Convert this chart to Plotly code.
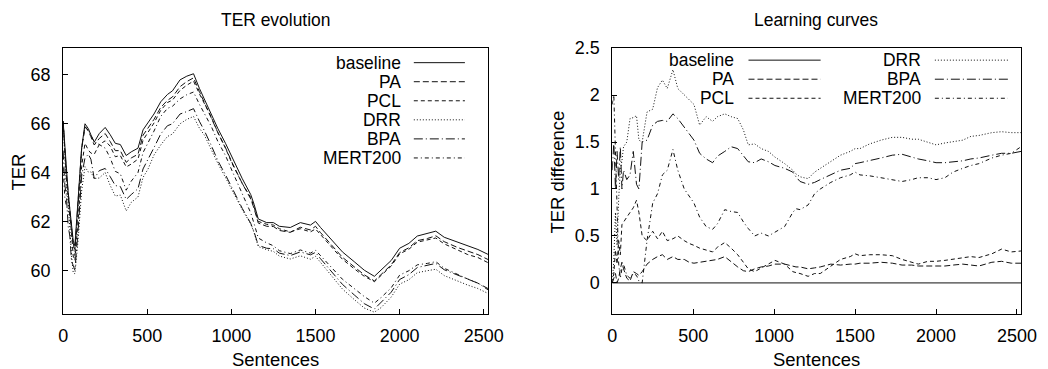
import plotly.graph_objects as go

# ---------------- data ----------------
SENTENCES = [0, 10, 20, 30, 40, 50, 60, 70, 90, 110,
             130, 150, 165, 185, 215, 250, 280, 310, 340, 375,
             405, 445, 475, 505, 540, 580, 620, 650, 695, 735,
             775, 810, 840, 880, 920, 965, 1005, 1065, 1115, 1135,
             1160, 1210, 1250, 1285, 1350, 1410, 1470, 1500, 1530, 1590,
             1660, 1730, 1790, 1850, 1890, 1950, 2000, 2055, 2105, 2165,
             2215, 2265, 2345, 2405, 2465, 2525]

# TER evolution (left chart)
TER_BASELINE = [66.1, 65.0, 64.0, 63.2, 62.5, 61.8, 61.2, 61.0, 62.8, 65.0,
                66.0, 65.8, 65.55, 65.25, 65.6, 65.85, 65.55, 65.2, 65.15, 64.7,
                64.85, 65.0, 65.75, 66.05, 66.4, 66.9, 67.2, 67.35, 67.8, 67.95,
                68.05, 67.45, 67.0, 66.4, 65.8, 65.2, 64.6, 63.75, 63.1, 62.7,
                62.1, 61.95, 61.95, 61.8, 61.75, 61.95, 61.85, 62.0, 61.75, 61.3,
                60.75, 60.35, 60.0, 59.75, 60.0, 60.4, 60.9, 61.1, 61.4, 61.5,
                61.6, 61.35, 61.15, 61.0, 60.85, 60.65]
TER_PA = [66.1, 64.95, 63.9, 63.2, 62.45, 61.65, 60.98, 60.85, 62.75, 64.98,
          65.88, 65.7, 65.47, 65.13, 65.4, 65.6, 65.27, 64.9, 64.9, 64.42,
          64.6, 64.75, 65.53, 65.84, 66.18, 66.67, 66.96, 67.1, 67.52, 67.73,
          67.88, 67.32, 66.88, 66.25, 65.63, 65.02, 64.4, 63.55, 62.92, 62.53,
          61.93, 61.8, 61.79, 61.63, 61.55, 61.76, 61.65, 61.8, 61.54, 61.09,
          60.53, 60.14, 59.81, 59.56, 59.82, 60.22, 60.72, 60.92, 61.21, 61.3,
          61.41, 61.17, 60.93, 60.77, 60.64, 60.44]
TER_PCL = [66.1, 64.9, 63.65, 63.0, 62.05, 61.5, 60.58, 60.4, 62.1, 64.25,
           65.2, 64.92, 64.8, 64.75, 65.15, 65.3, 65.08, 64.65, 64.7, 64.23,
           64.35, 64.55, 65.33, 65.65, 66.03, 66.55, 66.87, 66.97, 67.37, 67.58,
           67.75, 67.23, 66.85, 66.28, 65.64, 65.0, 64.36, 63.55, 62.98, 62.59,
           62.0, 61.88, 61.85, 61.7, 61.57, 61.7, 61.57, 61.69, 61.46, 61.0,
           60.45, 60.06, 59.75, 59.53, 59.8, 60.17, 60.67, 60.86, 61.15, 61.23,
           61.32, 61.08, 60.84, 60.64, 60.52, 60.31]
TER_DRR = [66.1, 64.75, 63.25, 62.8, 61.6, 60.6, 59.9, 59.85, 61.3, 63.25,
           64.24, 64.02, 64.03, 63.75, 63.78, 64.0, 63.47, 63.04, 63.08, 62.43,
           62.78, 63.0, 63.8, 64.15, 64.72, 65.13, 65.48, 65.58, 66.0, 66.18,
           66.3, 65.82, 65.53, 64.92, 64.37, 63.8, 63.26, 62.48, 61.9, 61.54,
           60.97, 60.84, 60.77, 60.58, 60.46, 60.59, 60.45, 60.57, 60.32, 59.82,
           59.23, 58.8, 58.45, 58.28, 58.47, 58.9, 59.43, 59.61, 59.9, 59.98,
           60.04, 59.78, 59.55, 59.39, 59.25, 59.05]
TER_BPA = [64.9, 63.5, 63.0, 61.8, 61.4, 60.35, 60.2, 60.0, 61.7, 63.85,
           64.6, 64.75, 64.55, 63.75, 64.08, 64.17, 63.83, 63.47, 63.43, 62.9,
           63.1, 63.34, 64.15, 64.53, 65.02, 65.58, 65.92, 66.0, 66.4, 66.5,
           66.62, 66.1, 65.71, 65.12, 64.48, 63.91, 63.35, 62.53, 61.92, 61.57,
           61.02, 60.9, 60.88, 60.7, 60.6, 60.75, 60.63, 60.73, 60.47, 60.0,
           59.42, 58.99, 58.63, 58.41, 58.68, 59.1, 59.62, 59.82, 60.11, 60.2,
           60.28, 60.02, 59.79, 59.62, 59.47, 59.25]
TER_MERT200 = [64.2, 63.0, 62.6, 62.5, 62.3, 61.75, 61.05, 60.6, 62.72, 64.95,
               65.9, 65.72, 65.53, 65.25, 65.15, 65.0, 64.6, 64.05, 63.95, 63.28,
               63.65, 64.0, 64.82, 65.2, 65.7, 66.3, 66.63, 66.72, 67.02, 67.19,
               67.3, 66.8, 66.42, 65.9, 65.27, 64.7, 64.06, 63.15, 62.35, 61.91,
               61.32, 61.12, 61.0, 60.8, 60.68, 60.83, 60.7, 60.82, 60.6, 60.16,
               59.63, 59.25, 58.92, 58.65, 58.88, 59.28, 59.8, 59.98, 60.22, 60.28,
               60.35, 60.08, 59.82, 59.64, 59.47, 59.2]

# Learning curves (right chart): TER difference
DIFF_BASELINE_X = [0, 2525]
DIFF_BASELINE = [0.0, 0.0]
DIFF_PA = [0.0, 0.05, 0.1, 0.0, 0.05, 0.15, 0.22, 0.15, 0.05, 0.02,
           0.12, 0.1, 0.08, 0.12, 0.2, 0.25, 0.28, 0.3, 0.25, 0.28,
           0.25, 0.25, 0.22, 0.21, 0.22, 0.23, 0.24, 0.25, 0.28, 0.22,
           0.17, 0.13, 0.12, 0.15, 0.17, 0.18, 0.2, 0.2, 0.18, 0.17,
           0.17, 0.15, 0.16, 0.17, 0.2, 0.19, 0.2, 0.2, 0.21, 0.21,
           0.22, 0.21, 0.19, 0.19, 0.18, 0.18, 0.18, 0.18, 0.19, 0.2,
           0.19, 0.18, 0.22, 0.23, 0.21, 0.21]
DIFF_PCL = [0.0, 0.1, 0.35, 0.2, 0.45, 0.3, 0.62, 0.65, 0.7, 0.75,
            0.8, 0.88, 0.75, 0.5, 0.45, 0.55, 0.47, 0.55, 0.45, 0.47,
            0.5, 0.45, 0.42, 0.4, 0.37, 0.35, 0.33, 0.38, 0.43, 0.37,
            0.3, 0.22, 0.15, 0.12, 0.16, 0.2, 0.24, 0.2, 0.12, 0.11,
            0.1, 0.07, 0.1, 0.1, 0.18, 0.25, 0.28, 0.31, 0.29, 0.3,
            0.3, 0.29, 0.25, 0.22, 0.2, 0.23, 0.23, 0.24, 0.25, 0.27,
            0.28, 0.27, 0.31, 0.36, 0.33, 0.34]
DIFF_DRR = [0.0, 0.25, 0.75, 0.4, 0.9, 1.2, 1.3, 1.45, 1.5, 1.75,
            1.76, 1.78, 1.52, 1.5, 1.82, 1.85, 2.08, 2.16, 2.07, 2.27,
            2.07, 2.0, 1.95, 1.9, 1.68, 1.77, 1.72, 1.77, 1.8, 1.77,
            1.75, 1.63, 1.47, 1.48, 1.43, 1.4, 1.34, 1.27, 1.2, 1.16,
            1.13, 1.11, 1.18, 1.22, 1.29, 1.36, 1.4, 1.43, 1.43, 1.48,
            1.52, 1.55, 1.55, 1.53, 1.53, 1.5, 1.47, 1.49, 1.5, 1.52,
            1.56, 1.57, 1.6, 1.61, 1.6, 1.6]
DIFF_BPA = [1.2, 1.5, 1.0, 1.4, 1.1, 1.45, 1.0, 1.2, 1.1, 1.15,
            1.4, 1.05, 1.0, 1.5, 1.52, 1.68, 1.72, 1.73, 1.72, 1.8,
            1.75, 1.66, 1.6, 1.52, 1.38, 1.32, 1.28, 1.35, 1.4, 1.45,
            1.43, 1.35, 1.29, 1.28, 1.32, 1.29, 1.25, 1.22, 1.18, 1.13,
            1.08, 1.05, 1.07, 1.1, 1.15, 1.2, 1.22, 1.27, 1.28, 1.3,
            1.33, 1.36, 1.37, 1.34, 1.32, 1.3, 1.28, 1.28, 1.29, 1.3,
            1.32, 1.33, 1.36, 1.38, 1.38, 1.4]
DIFF_MERT200 = [1.9, 2.0, 1.4, 0.7, 0.2, 0.05, 0.15, 0.2, 0.08, 0.05,
                0.1, 0.08, 0.02, 0.0, 0.45, 0.85, 0.95, 1.15, 1.2, 1.42,
                1.2, 1.0, 0.93, 0.85, 0.7, 0.6, 0.57, 0.63, 0.78, 0.76,
                0.75, 0.65, 0.58, 0.5, 0.53, 0.5, 0.54, 0.6, 0.75, 0.79,
                0.78, 0.83, 0.95, 1.0, 1.07, 1.12, 1.15, 1.18, 1.15, 1.14,
                1.12, 1.1, 1.08, 1.1, 1.12, 1.12, 1.1, 1.12, 1.18, 1.22,
                1.25, 1.27, 1.33, 1.36, 1.38, 1.45]

NAMES = ["baseline", "PA", "PCL", "DRR", "BPA", "MERT200"]
X_TICKS = [0, 500, 1000, 1500, 2000, 2500]
LEFT_Y_TICKS = [60, 62, 64, 66, 68]
RIGHT_Y_TICKS = [0, 0.5, 1, 1.5, 2, 2.5]
RIGHT_Y_LABELS = ["0", "0.5", "1", "1.5", "2", "2.5"]

# ---------------- styling ----------------
W, H = 1048, 369
FONT = "Liberation Sans, Arial, Helvetica, sans-serif"
DASH = {
    "baseline": "solid",
    "PA": "6px,3px",
    "PCL": "4px,3px",
    "DRR": "1px,2px",
    "BPA": "9px,3px,1px,3px",
    "MERT200": "4px,3px,1px,3px",
}
LINE_COLOR = "#111111"

# the photographed page is offset/scaled slightly; place items so they land
# at the intended picture pixels
OX, SX = 5.0, 0.978
OY, SY = 10.0, 0.970
FS = 1.0 / 0.975


def fx(p):
    return ((p - OX) / SX) / W


def fy(p):
    return 1 - ((p - OY) / SY) / H


fig = go.Figure()

left_series = [TER_BASELINE, TER_PA, TER_PCL, TER_DRR, TER_BPA, TER_MERT200]
for name, vals in zip(NAMES, left_series):
    fig.add_trace(go.Scatter(x=SENTENCES, y=vals, mode="lines", name=name,
                             line=dict(color=LINE_COLOR, width=1, dash=DASH[name]),
                             xaxis="x", yaxis="y", showlegend=False, hoverinfo="skip"))

fig.add_trace(go.Scatter(x=DIFF_BASELINE_X, y=DIFF_BASELINE, mode="lines", name="baseline",
                         line=dict(color=LINE_COLOR, width=1, dash=DASH["baseline"]),
                         xaxis="x2", yaxis="y2", showlegend=False, hoverinfo="skip"))
right_series = [DIFF_PA, DIFF_PCL, DIFF_DRR, DIFF_BPA, DIFF_MERT200]
for name, vals in zip(NAMES[1:], right_series):
    fig.add_trace(go.Scatter(x=SENTENCES, y=vals, mode="lines", name=name,
                             line=dict(color=LINE_COLOR, width=1, dash=DASH[name]),
                             xaxis="x2", yaxis="y2", showlegend=False, hoverinfo="skip"))

axis_common = dict(showgrid=False, zeroline=False, showline=True, linecolor="black",
                   linewidth=1, mirror=True, ticks="inside", ticklen=5, tickcolor="black",
                   tickwidth=1, tickfont=dict(family=FONT, size=17.5 * FS, color="black"))

Y_DOM = [fy(313), fy(48)]

annotations = []
shapes = []


def add_text(text, x, y, size=18, angle=0, xanchor="center"):
    annotations.append(dict(text=text, x=fx(x), y=fy(y), xref="paper", yref="paper",
                            showarrow=False, xanchor=xanchor, yanchor="middle",
                            textangle=angle,
                            font=dict(family=FONT, size=size * FS, color="black")))


add_text("TER evolution", 275, 20, 17)
add_text("Learning curves", 814, 20, 17)
add_text("Sentences", 275, 358)
add_text("Sentences", 815, 358)
add_text("TER", 18, 172, angle=-90)
add_text("TER difference", 556, 172, angle=-90)

LEGEND_SIZE = 17
ROW = 19.0

# Left legend (text right, sample line right of text)
for i, name in enumerate(NAMES):
    yrow = 62.5 + i * ROW
    add_text(name, 402, yrow, size=LEGEND_SIZE, xanchor="right")
    shapes.append(dict(type="line", xref="paper", yref="paper",
                       x0=fx(413), x1=fx(464), y0=fy(yrow), y1=fy(yrow),
                       line=dict(color=LINE_COLOR, width=1, dash=DASH[name])))

# Right legend: two columns
cols = [(NAMES[:3], 735, 747, 819), (NAMES[3:], 921, 933, 1006)]
for names, tx, lx0, lx1 in cols:
    for i, name in enumerate(names):
        yrow = 60 + i * ROW
        add_text(name, tx, yrow, size=LEGEND_SIZE, xanchor="right")
        shapes.append(dict(type="line", xref="paper", yref="paper",
                           x0=fx(lx0), x1=fx(lx1), y0=fy(yrow), y1=fy(yrow),
                           line=dict(color=LINE_COLOR, width=1, dash=DASH[name])))

fig.update_layout(
    width=W, height=H, autosize=False,
    margin=dict(l=0, r=0, t=0, b=0),
    paper_bgcolor="white", plot_bgcolor="white",
    font=dict(family=FONT, color="black"),
    xaxis=dict(domain=[fx(63), fx(487)], range=[0, 2525], tickvals=X_TICKS,
               anchor="y", ticklabelstandoff=6, **axis_common),
    yaxis=dict(domain=Y_DOM, range=[58.21, 69.1], tickvals=LEFT_Y_TICKS,
               anchor="x", ticklabelstandoff=8, **axis_common),
    xaxis2=dict(domain=[fx(611), fx(1019)], range=[0, 2525], tickvals=X_TICKS,
                anchor="y2", ticklabelstandoff=6, **axis_common),
    yaxis2=dict(domain=Y_DOM, range=[-0.33, 2.5], tickvals=RIGHT_Y_TICKS,
                ticktext=RIGHT_Y_LABELS, anchor="x2", ticklabelstandoff=8, **axis_common),
    annotations=annotations,
    shapes=shapes,
    showlegend=False,
)

POST = ("document.documentElement.style.margin='0';"
        "document.documentElement.style.padding='0';"
        "document.documentElement.style.overflow='hidden';"
        "document.body.style.margin='0';"
        "document.body.style.padding='0';"
        "document.body.style.overflow='hidden';")

fig.write_html("out.html", post_script=POST,
               config={"responsive": False, "displayModeBar": False})
